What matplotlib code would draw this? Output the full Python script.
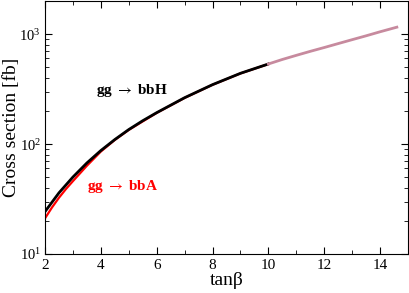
import matplotlib.pyplot as plt
from matplotlib.ticker import MultipleLocator, LogLocator, NullFormatter

plt.rcParams['font.family'] = ['Liberation Serif', 'DejaVu Serif']
plt.rcParams['mathtext.fontset'] = 'stix'

# gg -> bbH (black, up to tanb = 10)
tb_h = [2.0, 2.5, 3.0, 3.5, 4.0, 4.5, 5.0, 5.5, 6.0, 7.0, 8.0, 9.0, 10.0]
xs_h = [24.3, 36.0, 50.1, 67.3, 87.3, 109.9, 135.5, 163.0, 193.0, 264.0,
        347.0, 440.0, 535.0]

# gg -> bbA (red)
tb_a = [2.0, 2.25, 2.5, 2.75, 3.0, 3.5, 4.0, 4.5, 5.0, 6.0, 7.0, 8.0, 9.0, 10.0]
xs_a = [21.1, 26.5, 32.5, 39.0, 46.0, 63.5, 85.5, 109.0, 134.5, 192.0, 263.0,
        346.0, 439.0, 534.0]

# extension beyond tanb = 10 (pink)
tb_ext = [10.0, 10.5, 11.0, 11.5, 12.0, 12.5, 13.0, 13.5, 14.0, 14.6]
xs_ext = [535.0, 588.0, 641.0, 697.0, 755.0, 820.0, 890.0, 965.0, 1050.0, 1156.0]

fig = plt.figure(figsize=(4.09, 2.93), dpi=100)
ax = fig.add_axes([0.110, 0.133, 0.8876, 0.8636])

ax.plot(tb_a, xs_a, color='#ff0000', lw=1.6)
ax.plot(tb_h, xs_h, color='black', lw=2.0)
ax.plot(tb_ext, xs_ext, color='#c78a9e', lw=2.0)

ax.set_yscale('log')
ax.set_xlim(2, 15)
ax.set_ylim(10, 2000)
ax.xaxis.set_major_locator(MultipleLocator(2))
ax.xaxis.set_minor_locator(MultipleLocator(1))
ax.yaxis.set_major_locator(LogLocator(base=10, numticks=10))
ax.yaxis.set_minor_locator(LogLocator(base=10, subs=range(2, 10), numticks=20))
ax.yaxis.set_minor_formatter(NullFormatter())
ax.tick_params(which='both', direction='in', top=True, right=True, labelsize=11)
ax.tick_params(axis='y', labelsize=10.5, pad=3)
ax.tick_params(which='major', length=5)
ax.tick_params(which='minor', length=3)

ax.set_xlabel('tanβ', fontsize=14, labelpad=0)
ax.set_ylabel('Cross section [fb]', fontsize=14)
ax.yaxis.set_label_coords(-0.068, 0.5)

ax.text(3.82, 306, r'gg $\rightarrow$ bbH', fontsize=11, fontweight='bold',
        color='black', ha='left', va='center')
ax.text(3.5, 41, r'gg $\rightarrow$ bbA', fontsize=11, fontweight='bold',
        color='#ff0000', ha='left', va='center')

fig.savefig('out.png', dpi=100)
